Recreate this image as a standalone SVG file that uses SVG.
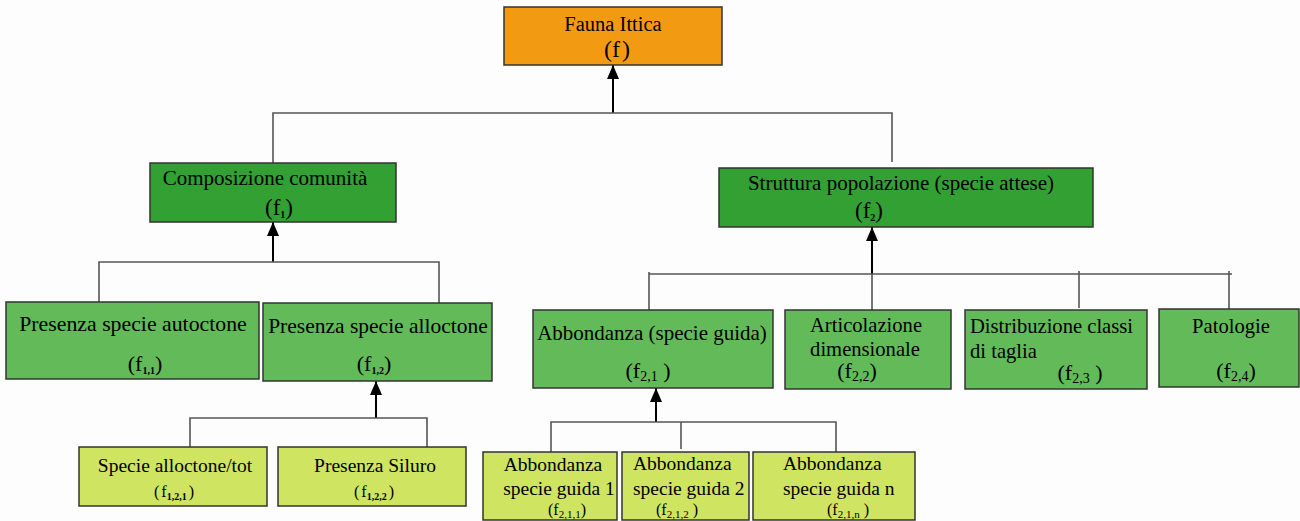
<svg xmlns="http://www.w3.org/2000/svg" width="1300" height="521" viewBox="0 0 1300 521">
<style>
text{font-family:"Liberation Serif","Times New Roman",serif;fill:#000}
.box{stroke:#333;stroke-width:1.5}
.or{fill:#F39A13}
.dg{fill:#32A033}
.mg{fill:#63BA58}
.lg{fill:#CFE460}
.c{stroke:#555;stroke-width:1.6;fill:none}
.a{stroke:#000;stroke-width:2;fill:none;marker-end:url(#ah)}
.m{text-anchor:middle}
.s{font-size:10px;font-weight:bold}
</style>
<defs>
<marker id="ah" markerUnits="userSpaceOnUse" markerWidth="14" markerHeight="12" refX="14" refY="6" orient="auto">
<path d="M0,0 L14,6 L0,12 z" fill="#000"/>
</marker>
</defs>
<rect width="1300" height="521" fill="#fdfdfd"/>
<g id="connectors">
<line class="a" x1="613" y1="113" x2="613" y2="65"/>
<polyline class="c" points="273,163 273,113 892,113 892,162"/>
<line class="a" x1="273" y1="262" x2="273" y2="222"/>
<polyline class="c" points="99,302 99,262 439,262 439,303"/>
<line class="a" x1="376" y1="418" x2="376" y2="381"/>
<polyline class="c" points="190,447 190,418 427,418 427,447"/>
<line class="a" x1="872" y1="274" x2="872" y2="227"/>
<line class="c" x1="872" y1="274" x2="872" y2="310"/>
<line class="c" x1="649" y1="274" x2="1232" y2="274"/>
<line class="c" x1="649" y1="272" x2="649" y2="310"/>
<line class="c" x1="1079" y1="271" x2="1079" y2="308"/>
<line class="c" x1="1229" y1="271" x2="1229" y2="309"/>
<line class="a" x1="656" y1="422" x2="656" y2="388"/>
<polyline class="c" points="551,452 551,422 836,422 836,452"/>
<line class="c" x1="681" y1="422" x2="681" y2="449"/>
</g>
<g id="n-fauna">
<rect class="box or" x="504" y="7" width="218" height="58"/>
<text class="m" x="613" y="31" font-size="20.5">Fauna Ittica</text>
<text class="m" x="617" y="57" font-size="24">(f<tspan dx="2">)</tspan></text>
</g>
<g id="n-comp">
<rect class="box dg" x="150" y="163" width="246" height="59"/>
<text class="m" x="265" y="185" font-size="21">Composizione comunità</text>
<text class="m" x="279" y="215" font-size="23">(f<tspan class="s" font-size="9" dy="3">1</tspan><tspan dy="-3">)</tspan></text>
</g>
<g id="n-strutt">
<rect class="box dg" x="719" y="168" width="374" height="59"/>
<text class="m" x="901" y="190" font-size="21">Struttura popolazione (specie attese)</text>
<text class="m" x="869" y="218" font-size="23">(f<tspan class="s" font-size="9" dy="3">2</tspan><tspan dy="-3">)</tspan></text>
</g>
<g id="n-autoc">
<rect class="box mg" x="6" y="302" width="253" height="77"/>
<text class="m" x="133" y="331" font-size="21.8">Presenza specie autoctone</text>
<text class="m" x="145" y="371" font-size="22">(f<tspan class="s" dy="3">1,1</tspan><tspan dy="-3">)</tspan></text>
</g>
<g id="n-alloc">
<rect class="box mg" x="263" y="303" width="229" height="78"/>
<text class="m" x="378" y="333" font-size="21.5">Presenza specie alloctone</text>
<text class="m" x="374" y="371" font-size="22">(f<tspan class="s" dy="3">1,2</tspan><tspan dy="-3">)</tspan></text>
</g>
<g id="n-abb">
<rect class="box mg" x="533" y="310" width="240" height="78"/>
<text class="m" x="652" y="340" font-size="21">Abbondanza (specie guida)</text>
<text class="m" x="648" y="378" font-size="22">(f<tspan font-size="14" dy="3">2,1</tspan><tspan dy="-3"> )</tspan></text>
</g>
<g id="n-art">
<rect class="box mg" x="785" y="310" width="166" height="79"/>
<text class="m" x="866" y="332" font-size="20.6">Articolazione</text>
<text class="m" x="865" y="356" font-size="20.6">dimensionale</text>
<text class="m" x="857" y="378" font-size="22">(f<tspan font-size="14" dy="3">2,2</tspan><tspan dy="-3">)</tspan></text>
</g>
<g id="n-distr">
<rect class="box mg" x="965" y="310" width="182" height="79"/>
<text x="970" y="333" font-size="20.6">Distribuzione classi</text>
<text x="970" y="358" font-size="20.6">di taglia</text>
<text class="m" x="1080" y="380" font-size="22">(f<tspan font-size="14" dy="3">2,3</tspan><tspan dy="-3"> )</tspan></text>
</g>
<g id="n-pat">
<rect class="box mg" x="1159" y="309" width="140" height="78"/>
<text class="m" x="1231" y="333" font-size="20.6">Patologie</text>
<text class="m" x="1236" y="378" font-size="22">(f<tspan font-size="14" dy="3">2,4</tspan><tspan dy="-3">)</tspan></text>
</g>
<g id="n-specie">
<rect class="box lg" x="79" y="447" width="188" height="59"/>
<text class="m" x="175" y="472" font-size="19.5">Specie alloctone/tot</text>
<text class="m" x="174" y="497" font-size="16">(<tspan dx="2">f</tspan><tspan class="s" font-size="9" dy="3">1,2,1</tspan><tspan dx="2" dy="-3">)</tspan></text>
</g>
<g id="n-siluro">
<rect class="box lg" x="278" y="447" width="188" height="59"/>
<text class="m" x="375" y="472" font-size="19.5">Presenza Siluro</text>
<text class="m" x="374" y="497" font-size="16">(<tspan dx="2">f</tspan><tspan class="s" font-size="9" dy="3">1,2,2</tspan><tspan dx="2" dy="-3">)</tspan></text>
</g>
<g id="n-ab1">
<rect class="box lg" x="483" y="452" width="134" height="68"/>
<text class="m" x="553" y="471" font-size="19.5">Abbondanza</text>
<text class="m" x="559" y="495" font-size="19.5">specie guida 1</text>
<text class="m" x="567" y="515" font-size="16">(f<tspan font-size="11" dy="3">2,1,1</tspan><tspan dy="-3">)</tspan></text>
</g>
<g id="n-ab2">
<rect class="box lg" x="622" y="452" width="127" height="68"/>
<text x="633" y="470" font-size="19.5">Abbondanza</text>
<text x="633" y="495" font-size="19.5">specie guida 2</text>
<text x="656" y="515" font-size="16">(f<tspan font-size="11" dy="3">2,1,2</tspan><tspan dy="-3"> )</tspan></text>
</g>
<g id="n-ab3">
<rect class="box lg" x="753" y="452" width="162" height="68"/>
<text x="783" y="470" font-size="19.5">Abbondanza</text>
<text x="783" y="495" font-size="19.5">specie guida n</text>
<text x="827" y="515" font-size="16">(f<tspan font-size="11" dy="3">2,1,n</tspan><tspan dy="-3"> )</tspan></text>
</g>
</svg>
